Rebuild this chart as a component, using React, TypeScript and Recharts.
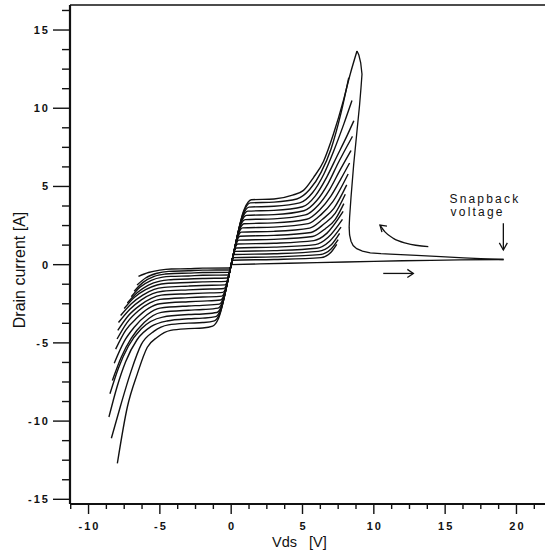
import React from 'react';
import { ComposedChart, Line, Scatter, XAxis, YAxis, ReferenceLine } from 'recharts';

type P = [number, number][];

// Drain current curves, one per gate step (k = 0 smallest ... 16 largest), [Vds, Id]
const vg00: P = [[-6.5,-0.75],[-5.8,-0.5],[-5.0,-0.35],[-4.2,-0.28],[-3,-0.26],[-2,-0.22],[-0.07,-0.21],[-0.05,-0.19],[0,0],[0.06,0.24],[0.1,0.28],[3,0.33],[6.3,0.45],[7.0,0.8],[7.4,1.3]];
const vg01: P = [[-6.6,-1.3],[-6.0,-0.85],[-5.2,-0.55],[-4.4,-0.43],[-3,-0.39],[-2,-0.35],[-0.11,-0.34],[-0.08,-0.3],[0,0],[0.1,0.38],[0.15,0.45],[3,0.5],[6.2,0.64],[7.0,1.0],[7.5,1.6]];
const vg02: P = [[-6.8,-1.7],[-6.2,-1.15],[-5.4,-0.75],[-4.6,-0.6],[-4.0,-0.56],[-3,-0.54],[-2,-0.5],[-0.16,-0.49],[-0.11,-0.43],[0,0],[0.14,0.55],[0.22,0.65],[3,0.7],[6.1,0.85],[7.0,1.25],[7.6,2.0]];
const vg03: P = [[-7.0,-2.05],[-6.4,-1.45],[-5.6,-1.0],[-4.8,-0.8],[-4.2,-0.75],[-3,-0.72],[-2,-0.68],[-0.22,-0.66],[-0.15,-0.58],[0,0],[0.19,0.72],[0.29,0.85],[3,0.9],[6.0,1.05],[6.9,1.5],[7.7,2.4]];
const vg04: P = [[-7.28,-2.45],[-6.6,-1.8],[-5.8,-1.3],[-5.0,-1.05],[-4.4,-0.97],[-3,-0.92],[-2,-0.88],[-0.28,-0.85],[-0.19,-0.75],[0,0],[0.24,0.91],[0.36,1.07],[3,1.12],[5.9,1.28],[6.8,1.75],[7.8,2.9]];
const vg05: P = [[-7.5,-2.8],[-6.8,-2.1],[-6.0,-1.6],[-5.2,-1.3],[-4.6,-1.2],[-3,-1.14],[-2,-1.1],[-0.35,-1.07],[-0.24,-0.94],[0,0],[0.29,1.12],[0.45,1.32],[3,1.37],[5.8,1.54],[6.7,2.0],[7.85,3.4]];
const vg06: P = [[-7.75,-3.25],[-7.0,-2.5],[-6.2,-1.95],[-5.4,-1.58],[-4.7,-1.45],[-3,-1.37],[-2,-1.33],[-0.43,-1.29],[-0.29,-1.13],[0,0],[0.35,1.33],[0.53,1.57],[3,1.62],[5.7,1.8],[6.6,2.3],[7.3,2.9],[7.9,3.9]];
const vg07: P = [[-7.9,-3.7],[-7.1,-2.85],[-6.3,-2.25],[-5.5,-1.85],[-4.8,-1.7],[-3,-1.61],[-2,-1.57],[-0.5,-1.52],[-0.35,-1.33],[0,0],[0.4,1.55],[0.62,1.82],[3,1.87],[5.6,2.06],[6.5,2.6],[7.3,3.3],[8.0,4.5]];
const vg08: P = [[-7.95,-4.2],[-7.2,-3.25],[-6.4,-2.6],[-5.6,-2.15],[-4.9,-1.95],[-3,-1.86],[-2,-1.82],[-0.58,-1.77],[-0.4,-1.55],[0,0],[0.46,1.77],[0.71,2.08],[3,2.13],[5.5,2.34],[6.4,2.9],[7.2,3.6],[8.1,5.1]];
const vg09: P = [[-8.0,-4.75],[-7.3,-3.7],[-6.5,-2.95],[-5.7,-2.45],[-5.0,-2.22],[-3,-2.11],[-2,-2.07],[-0.66,-2.01],[-0.46,-1.76],[0,0],[0.52,2.0],[0.8,2.35],[3,2.4],[5.4,2.62],[6.3,3.2],[7.1,4.0],[8.2,5.8]];
const vg10: P = [[-8.1,-5.4],[-7.4,-4.2],[-6.6,-3.4],[-5.8,-2.8],[-5.0,-2.5],[-3,-2.37],[-2,-2.33],[-0.75,-2.26],[-0.51,-1.98],[0,0],[0.58,2.23],[0.89,2.62],[3,2.67],[5.3,2.9],[6.2,3.5],[7.0,4.4],[7.7,5.5],[8.3,6.5]];
const vg11: P = [[-8.2,-6.3],[-7.5,-4.9],[-6.8,-4.0],[-5.9,-3.2],[-5.0,-2.78],[-3,-2.64],[-2,-2.6],[-0.83,-2.52],[-0.57,-2.21],[0,0],[0.63,2.45],[0.98,2.88],[3,2.93],[5.2,3.18],[6.1,3.8],[6.9,4.8],[7.6,6.0],[8.4,7.3]];
const vg12: P = [[-8.33,-7.4],[-7.7,-5.9],[-7.0,-4.7],[-6.1,-3.7],[-4.9,-3.05],[-3,-2.91],[-2,-2.87],[-0.92,-2.78],[-0.63,-2.44],[0,0],[0.69,2.68],[1.07,3.15],[3,3.2],[5.1,3.45],[6.0,4.1],[6.8,5.2],[7.5,6.5],[8.5,8.2]];
const vg13: P = [[-8.5,-8.25],[-7.9,-6.6],[-7.2,-5.2],[-6.3,-4.1],[-4.8,-3.35],[-3,-3.19],[-2,-3.15],[-1.01,-3.06],[-0.69,-2.68],[0,0],[0.75,2.91],[1.16,3.42],[3,3.47],[5.0,3.7],[5.9,4.4],[6.7,5.6],[7.4,6.9],[8.1,8.2],[8.6,9.2]];
const vg14: P = [[-8.57,-9.74],[-8.0,-7.8],[-7.4,-6.2],[-6.6,-4.8],[-5.6,-3.95],[-4.5,-3.6],[-3,-3.46],[-2,-3.42],[-1.09,-3.32],[-0.75,-2.91],[0,0],[0.81,3.13],[1.25,3.68],[3,3.73],[4.8,3.95],[5.7,4.6],[6.5,5.8],[7.2,7.3],[7.9,9.0],[8.47,10.5]];
const vg15: P = [[-8.4,-11.1],[-7.75,-9.0],[-7.05,-6.9],[-6.3,-5.1],[-5.4,-4.25],[-4.4,-3.85],[-3,-3.74],[-2,-3.7],[-1.18,-3.59],[-0.81,-3.15],[0,0],[0.87,3.36],[1.34,3.95],[3,4.0],[4.6,4.2],[5.5,4.8],[6.3,5.9],[7.0,7.4],[7.7,9.7],[8.24,11.95]];
const vg16: P = [[-7.98,-12.7],[-7.28,-9.1],[-6.58,-6.98],[-5.88,-5.28],[-5.18,-4.64],[-4.25,-4.2],[-3,-4.09],[-2,-4.05],[-1.3,-3.93],[-0.89,-3.44],[0,0],[0.91,3.53],[1.41,4.15],[3,4.2],[4.3,4.45],[5.07,4.75],[5.77,5.57],[6.47,6.6],[7.17,8.35],[7.87,10.5],[8.35,12.2],[8.82,13.66]];

const familyCurves: P[] = [vg00, vg01, vg02, vg03, vg04, vg05, vg06, vg07, vg08, vg09, vg10, vg11, vg12, vg13, vg14, vg15, vg16];

// Off-state sweep up to the snapback point, and the snapback return up to the peak
const lowSweep: P = [[0,0],[2,0.05],[4,0.09],[6,0.13],[8,0.17],[10,0.21],[12,0.25],[14,0.28],[16,0.3],[19.1,0.33]];
const snapReturn: P = [[19.1,0.33],[17.5,0.38],[16.3,0.43],[14.7,0.52],[13,0.6],[11.15,0.67],[10.5,0.7],[9.75,0.76],[9.2,0.86],[8.8,1.02],[8.55,1.22],[8.4,1.5],[8.3,1.9],[8.27,2.4],[8.3,3.0],[8.4,4.3],[8.59,6.43],[8.82,8.55],[9.0,10.2],[9.1,11.3],[9.17,12.17],[9.08,12.9],[8.95,13.4],[8.82,13.66]];

// Annotation arrows
const arrowRight: P = [[10.66,-0.56],[12.77,-0.56]];
const arrowRightHead: P = [[12.35,-0.3],[12.77,-0.56],[12.35,-0.82]];
const arrowCurve: P = [[13.82,1.15],[12.3,1.36],[11.37,1.68],[10.78,2.1],[10.43,2.53]];
const arrowCurveHead: P = [[10.92,2.47],[10.43,2.53],[10.57,2.08]];
const arrowDown: P = [[19.08,2.64],[19.08,0.94]];
const arrowDownHead: P = [[18.8,1.39],[19.08,0.94],[19.36,1.39]];

const noteLabels = [
  { x: 15.3, y: 3.97, label: 'Snapback' },
  { x: 15.38, y: 3.08, label: 'voltage' },
];

const xMajor = [-10, -5, 0, 5, 10, 15, 20];
const xTicks = [-11.25,-10,-8.75,-7.5,-6.25,-5,-3.75,-2.5,-1.25,0,1.25,2.5,3.75,5,6.25,7.5,8.75,10,11.25,12.5,13.75,15,16.25,17.5,18.75,20,21.25];
const yMajor = [-15, -10, -5, 0, 5, 10, 15];
const yTicks = [-15,-13.75,-12.5,-11.25,-10,-8.75,-7.5,-6.25,-5,-3.75,-2.5,-1.25,0,1.25,2.5,3.75,5,6.25,7.5,8.75,10,11.25,12.5,13.75,15,16.25];

const X_DOMAIN: [number, number] = [-11.3, 22];
const Y_DOMAIN: [number, number] = [-15.3, 16.6];

const FONT = '"Liberation Sans", Arial, Helvetica, sans-serif';
const INK = '#111';

const toPts = (a: P) => a.map(([x, y]) => ({ x, y }));

const XTick = (props: any) => {
  const { x, y, payload } = props;
  const v = payload.value as number;
  const major = xMajor.includes(v);
  return (
    <g>
      <line x1={x} y1={y} x2={x} y2={y + (major ? 10 : 5)} stroke={INK} strokeWidth={1.4} />
      {major && (
        <text x={x + 1} y={y + 26} textAnchor="middle" fontFamily={FONT} fontSize={11} fontWeight="bold" letterSpacing={2} fill={INK}>
          {String(v)}
        </text>
      )}
    </g>
  );
};

const YTick = (props: any) => {
  const { x, y, payload } = props;
  const v = payload.value as number;
  const major = yMajor.includes(v);
  return (
    <g>
      <line x1={x - (major ? 17 : 8)} y1={y} x2={x} y2={y} stroke={INK} strokeWidth={1.4} />
      {major && (
        <text x={x - 20} y={y + 4} textAnchor="end" fontFamily={FONT} fontSize={11} fontWeight="bold" letterSpacing={2} fill={INK}>
          {String(v)}
        </text>
      )}
    </g>
  );
};

const XTitle = (props: any) => {
  const vb = props.viewBox || { x: 70, y: 504, width: 475, height: 47 };
  return (
    <text x={vb.x + 202} y={vb.y + 43} fontFamily={FONT} fontSize={14.5} fill={INK} style={{ whiteSpace: 'pre' }}>
      {'Vds   [V]'}
    </text>
  );
};

const YTitle = (props: any) => {
  const vb = props.viewBox || { x: 0, y: 5, width: 70, height: 499 };
  const cx = vb.x + 25;
  const cy = 270;
  return (
    <text x={cx} y={cy} transform={`rotate(-90 ${cx} ${cy})`} textAnchor="middle" fontFamily={FONT} fontSize={16} fill={INK}>
      Drain current [A]
    </text>
  );
};

const NoteText = (props: any) => {
  const { cx, cy, payload } = props;
  return (
    <text x={cx} y={cy} fontFamily={FONT} fontSize={12} letterSpacing={2.2} fill={INK}>
      {payload.label}
    </text>
  );
};

export default function App() {
  const lineProps = {
    dataKey: 'y',
    dot: false,
    activeDot: false,
    isAnimationActive: false,
    stroke: INK,
    legendType: 'none' as const,
  };
  return (
    <div style={{ position: 'absolute', left: 0, top: 0, background: '#fff' }}>
      <ComposedChart width={545} height={551} margin={{ top: 5, right: 0, bottom: 0, left: 0 }}>
        <XAxis
          type="number"
          dataKey="x"
          domain={X_DOMAIN}
          allowDataOverflow
          ticks={xTicks}
          interval={0}
          tickSize={0}
          tickMargin={0}
          tickLine={false}
          tick={<XTick />}
          axisLine={{ stroke: INK, strokeWidth: 2 }}
          height={47}
          label={<XTitle />}
        />
        <YAxis
          type="number"
          dataKey="y"
          domain={Y_DOMAIN}
          allowDataOverflow
          ticks={yTicks}
          interval={0}
          tickSize={0}
          tickMargin={0}
          tickLine={false}
          tick={<YTick />}
          axisLine={{ stroke: INK, strokeWidth: 2.2 }}
          width={70}
          label={<YTitle />}
        />
        <ReferenceLine y={16.6} stroke={INK} strokeWidth={1.6} />
        {familyCurves.map((c, i) => (
          <Line key={`vg${i}`} {...lineProps} data={toPts(c)} type="monotone" strokeWidth={1.4} />
        ))}
        <Line {...lineProps} data={toPts(lowSweep)} type="linear" strokeWidth={1.3} />
        <Line {...lineProps} data={toPts(snapReturn)} type="linear" strokeWidth={1.3} />
        <Line {...lineProps} data={toPts(arrowRight)} type="linear" strokeWidth={1.3} />
        <Line {...lineProps} data={toPts(arrowRightHead)} type="linear" strokeWidth={1.3} />
        <Line {...lineProps} data={toPts(arrowCurve)} type="monotone" strokeWidth={1.3} />
        <Line {...lineProps} data={toPts(arrowCurveHead)} type="linear" strokeWidth={1.3} />
        <Line {...lineProps} data={toPts(arrowDown)} type="linear" strokeWidth={1.3} />
        <Line {...lineProps} data={toPts(arrowDownHead)} type="linear" strokeWidth={1.3} />
        <Scatter data={noteLabels} dataKey="y" isAnimationActive={false} shape={<NoteText />} legendType="none" />
      </ComposedChart>
    </div>
  );
}
